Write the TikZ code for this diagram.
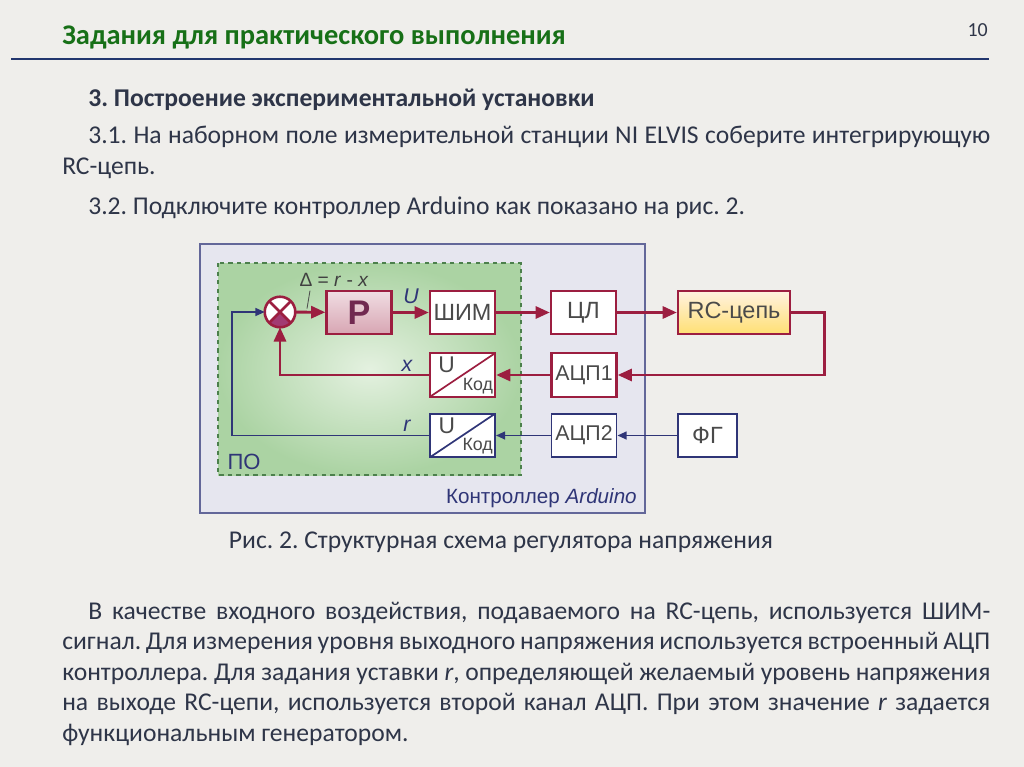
\documentclass[tikz,border=0pt]{standalone}
\usepackage{fontspec}
\setmainfont{Carlito}
\newfontfamily\arialf{Liberation Sans}
\usetikzlibrary{arrows.meta}
\frenchspacing
\definecolor{bgc}{HTML}{EFEEEB}
\definecolor{titlec}{HTML}{177017}
\definecolor{textc}{HTML}{2E3548}
\definecolor{rulec}{HTML}{22366E}
\definecolor{redc}{HTML}{9C1E40}
\definecolor{bluec}{HTML}{2F3577}
\definecolor{boxtext}{HTML}{4A4A4A}
\definecolor{plum}{HTML}{A23A72}
\definecolor{greenin}{HTML}{E4F1E0}
\definecolor{greenout}{HTML}{ABD3A3}
\definecolor{ctrlfill}{HTML}{E6E6EF}
\tikzset{
  blk/.style={draw=redc, line width=1.7pt, fill=white, inner sep=0pt,
    minimum width=45.7pt, minimum height=30.6pt,
    font=\arialf\fontsize{16.5}{18}\selectfont, text=boxtext},
  bblk/.style={blk, draw=bluec, line width=1.3pt},
  adc/.style={font=\arialf\fontsize{15}{17}\selectfont},
  conv/.style={path picture={
      \draw[#1, line width=1.2pt] (path picture bounding box.south west) -- (path picture bounding box.north east);}},
  convtxt/.style={inner sep=0pt, text=boxtext, font=\arialf\fontsize{16}{18}\selectfont},
  redline/.style={draw=redc, line width=2pt, -{Triangle[length=10pt,width=8.5pt]}},
  blueline/.style={draw=bluec, line width=1.3pt, -{Triangle[length=6.5pt,width=5.5pt]}},
  sig/.style={font=\arialf\itshape\fontsize{15}{17}\selectfont, text=bluec},
  slide/.style={text=textc, inner sep=0pt, font=\fontsize{18}{21.5}\selectfont}
}
\begin{document}
\begin{tikzpicture}[x=0.703125pt, y=-0.703125pt]
    \fill[bgc] (0,0) rectangle (1024,767);
    \useasboundingbox (0,0) rectangle (1024,767);
    \node[anchor=base west, inner sep=0pt, text=titlec, font=\bfseries\fontsize{20}{24}\selectfont] (title) at (62,45) {Задания для практического выполнения};
    \node[anchor=base east, inner sep=0pt, text=textc, font=\fontsize{14}{16}\selectfont] (pnum) at (988,37) {10};
    \draw[rulec, line width=1.2pt] (11,59) -- (989,59);
    \node[slide, anchor=base west, font=\bfseries\fontsize{18}{21.5}\selectfont] (head) at (88,107) {3. Построение экспериментальной установки};
    \node[slide, anchor=base west, text width=652.5pt, align=justify] (stepA) at (62,144)
      {\hspace*{18.3pt}3.1. На наборном поле измерительной станции NI ELVIS соберите интегрирующую\linebreak RC-цепь.};
    \node[slide, anchor=base west] (stepB) at (88,215) {3.2. Подключите контроллер Arduino как показано на рис. 2.};
    % figure
    \draw[draw=bluec!75, line width=1pt, fill=ctrlfill] (200,244) rectangle (645,513);
    \shade[inner color=greenin, outer color=greenout] (218,263) rectangle (521,475);
    \draw[black!50!green!40!gray, dashed, line width=0.8pt] (218,263) rectangle (521,475);
    \node[circle, draw=redc, line width=1.8pt, fill=white, minimum size=21.5pt, inner sep=0pt, outer sep=0pt,
      path picture={
        \fill[plum] (path picture bounding box.center) -- ++(225:12pt) arc[start angle=225, end angle=315, radius=12pt] -- cycle;
        \draw[redc, line width=1.8pt] (path picture bounding box.north west) -- (path picture bounding box.south east)
          (path picture bounding box.north east) -- (path picture bounding box.south west);}] (sum) at (280,312) {};
    \node[blk, top color=redc!15, bottom color=redc!40, font=\arialf\bfseries\fontsize{24}{26}\selectfont, text=plum!70!black] (reg) at (359,312.5) {P};
    \node[blk] (pwm) at (462.5,312.5) {ШИМ};
    \node[blk] (dl) at (583.5,312.5) {ЦЛ};
    \node[blk, minimum width=78.7pt, top color=yellow!15!orange!12, bottom color=orange!45!yellow!55] (rc) at (734,312.5) {RC-цепь};
    \node[blk, conv=redc] (cvA) at (462.5,375) {};
    \node[blk, adc] (adcA) at (584,375) {АЦП1};
    \node[bblk, conv=bluec] (cvB) at (462.5,435.5) {};
    \node[bblk, adc] (adcB) at (584,435.5) {АЦП2};
    \node[bblk, minimum width=41.5pt] (fg) at (707.5,435.5) {ФГ};
    \foreach \c in {cvA,cvB}{
      \node[convtxt, anchor=north west] at ([shift={(6.5pt,-3pt)}]\c.north west) {U};
      \node[convtxt, anchor=south east, font=\arialf\fontsize{12.5}{14}\selectfont] at ([shift={(-2pt,2.5pt)}]\c.south east) {Код};
    }
    \draw[redline] (sum) -- (reg);
    \draw[redline] (reg) -- (pwm);
    \draw[redline] (pwm) -- (dl);
    \draw[redline] (dl) -- (rc);
    \draw[redline] (rc.east) -- ++(33,0) |- (adcA.east);
    \draw[redline] (adcA) -- (cvA);
    \draw[redline] (cvA.west) -| (sum.south);
    \draw[blueline] (fg) -- (adcB);
    \draw[blueline] (adcB) -- (cvB);
    \draw[blueline] (cvB.west) -- ++(-197,0) |- (sum.west);
    \node[sig] (labx) at (407,366) {x};
    \node[sig] (labr) at (407,426) {r};
    \node[sig] (labU) at (411,296) {U};
    \node[font=\arialf\fontsize{13.5}{15}\selectfont, text=black!75] (labd) at (334,280) {Δ = \textit{r} - \textit{x}};
    \draw[black!70, line width=0.6pt] (labd.south) ++(-24,-1) coordinate (pt) -- ++(-3,18);
    \node[font=\arialf\fontsize{15.5}{17}\selectfont, text=bluec] (po) at (244,462) {ПО};
    \node[anchor=base east, inner sep=0pt, font=\arialf\fontsize{14.5}{17}\selectfont, text=bluec] (ctrl) at (637,503) {Контроллер \textit{Arduino}};
    \node[slide, anchor=base] (cap) at (501,548) {Рис. 2. Структурная схема регулятора напряжения};
    \node[slide, anchor=base west, text width=652.5pt, align=justify] (para) at (62,619)
      {\hspace*{18.3pt}В качестве входного воздействия, подаваемого на RC-цепь, используется ШИМ-\linebreak{}сигнал.
       Для измерения уровня выходного напряжения используется встроенный АЦП\linebreak контроллера.
       Для задания уставки \textit{r}, определяющей желаемый уровень напряжения\linebreak на выходе RC-цепи,
       используется второй канал АЦП. При этом значение \textit{r} задается\linebreak функциональным генератором.};
\end{tikzpicture}
\end{document}
